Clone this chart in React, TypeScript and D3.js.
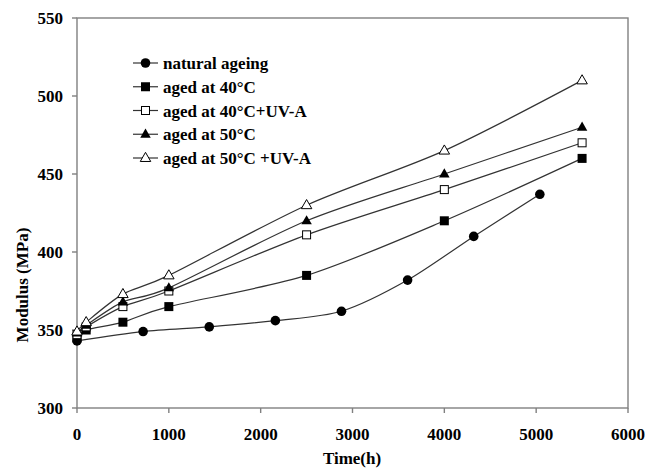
import React from "react";
import * as d3 from "d3";

const naturalTime = [0, 720, 1440, 2160, 2880, 3600, 4320, 5040];
const naturalModulus = [343, 349, 352, 356, 362, 382, 410, 437];

const agedTime = [0, 100, 500, 1000, 2500, 4000, 5500];
const aged40 = [345, 350, 355, 365, 385, 420, 460];
const aged40UV = [347, 352, 365, 375, 411, 440, 470];
const aged50 = [348, 353, 368, 377, 420, 450, 480];
const aged50UV = [349, 355, 373, 385, 430, 465, 510];

const seriesNames = [
  "natural ageing",
  "aged at 40°C",
  "aged at 40°C+UV-A",
  "aged at 50°C",
  "aged at 50°C +UV-A",
];
const seriesMarkers = ["circle", "squareFilled", "squareOpen", "triFilled", "triOpen"];

const xTicks = [0, 1000, 2000, 3000, 4000, 5000, 6000];
const yTicks = [300, 350, 400, 450, 500, 550];

const W = 648;
const H = 469;
const left = 77;
const right = 628;
const top = 18;
const bottom = 408;
const FONT = "'Liberation Serif', 'Times New Roman', serif";

function Marker({ kind, x, y }: { kind: string; x: number; y: number }) {
  const s = 9;
  if (kind === "circle") return <circle cx={x} cy={y} r={4.8} fill="#000" />;
  if (kind === "squareFilled")
    return <rect x={x - s / 2} y={y - s / 2} width={s} height={s} fill="#000" />;
  if (kind === "squareOpen")
    return (
      <rect x={x - s / 2 + 0.5} y={y - s / 2 + 0.5} width={s - 1} height={s - 1} fill="#fff" stroke="#000" strokeWidth={1} />
    );
  const t = 10.5;
  const h = t * 0.87;
  const pts = `${x},${y - h * 0.62} ${x - t / 2},${y + h * 0.38} ${x + t / 2},${y + h * 0.38}`;
  if (kind === "triFilled") return <polygon points={pts} fill="#000" />;
  return <polygon points={pts} fill="#fff" stroke="#000" strokeWidth={1} />;
}

export default function App() {
  const x = d3.scaleLinear().domain([0, 6000]).range([left, right]);
  const y = d3.scaleLinear().domain([300, 550]).range([bottom, top]);

  const series = [
    { t: naturalTime, v: naturalModulus },
    { t: agedTime, v: aged40 },
    { t: agedTime, v: aged40UV },
    { t: agedTime, v: aged50 },
    { t: agedTime, v: aged50UV },
  ];

  const line = d3
    .line<[number, number]>()
    .x((d) => x(d[0]))
    .y((d) => y(d[1]))
    .curve(d3.curveCardinal.tension(0.15));

  const legendX = 133;
  const legendY0 = 63;
  const legendDy = 23.75;

  return (
    <svg
      width={W}
      height={H}
      style={{ position: "absolute", left: 0, top: 0, background: "#fff" }}
      fontFamily={FONT}
      fontWeight="bold"
      fontSize={17}
    >
      <rect x={0} y={0} width={W} height={H} fill="#fff" />
      {/* frame */}
      <rect x={left} y={top} width={right - left} height={bottom - top} fill="none" stroke="#808080" strokeWidth={1.4} />
      {/* y ticks */}
      {yTicks.map((t) => (
        <g key={"y" + t}>
          <line x1={left - 5} x2={left} y1={y(t)} y2={y(t)} stroke="#808080" strokeWidth={1.4} />
          <text x={63} y={y(t) + 6} textAnchor="end" fill="#000">
            {t}
          </text>
        </g>
      ))}
      {/* x ticks */}
      {xTicks.map((t) => (
        <g key={"x" + t}>
          <line x1={x(t)} x2={x(t)} y1={bottom} y2={bottom + 5} stroke="#808080" strokeWidth={1.4} />
          <text x={x(t)} y={440} textAnchor="middle" fill="#000">
            {t}
          </text>
        </g>
      ))}
      <text x={352} y={464} textAnchor="middle" fill="#000">
        Time(h)
      </text>
      <text transform={`translate(28,285) rotate(-90)`} textAnchor="middle" fill="#000">
        Modulus (MPa)
      </text>
      {/* lines */}
      {series.map((s, i) => (
        <path
          key={"l" + i}
          d={line(s.t.map((tt, j) => [tt, s.v[j]] as [number, number])) || ""}
          fill="none"
          stroke="#333"
          strokeWidth={1.2}
        />
      ))}
      {series.map((s, i) =>
        s.t.map((tt, j) => <Marker key={`m${i}-${j}`} kind={seriesMarkers[i]} x={x(tt)} y={y(s.v[j])} />)
      )}
      {/* legend */}
      {seriesNames.map((name, i) => {
        const ly = legendY0 + i * legendDy;
        return (
          <g key={"lg" + i}>
            <line x1={legendX} x2={legendX + 25} y1={ly} y2={ly} stroke="#333" strokeWidth={1.2} />
            <Marker kind={seriesMarkers[i]} x={legendX + 12.5} y={ly} />
            <text x={legendX + 30} y={ly + 6} fill="#000">
              {name}
            </text>
          </g>
        );
      })}
    </svg>
  );
}
